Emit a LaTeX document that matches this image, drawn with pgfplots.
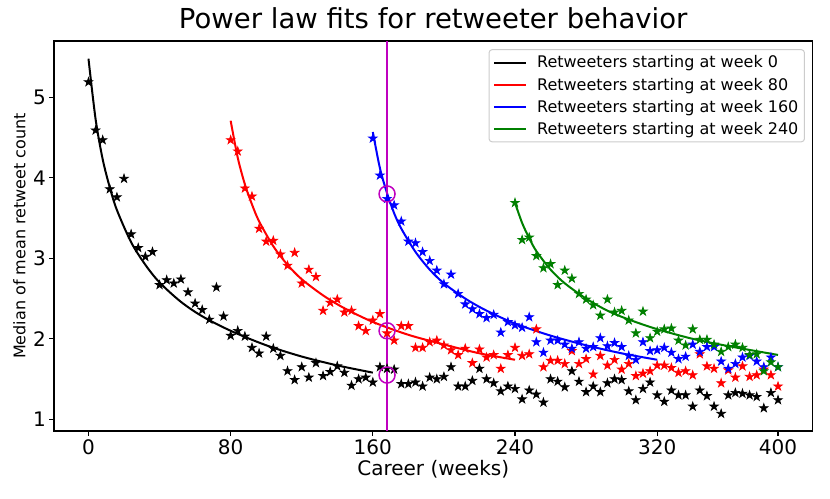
\documentclass[border=0pt]{standalone}
\usepackage{fontspec}
\setmainfont{DejaVu Sans}
\usepackage{pgfplots}
\pgfplotsset{compat=1.18}
\usetikzlibrary{plotmarks}
\definecolor{mplred}{rgb}{1,0,0}
\definecolor{mplgreen}{rgb}{0,0.5,0}
\definecolor{mplblue}{rgb}{0,0,1}
\definecolor{mplmag}{rgb}{0.75,0,0.75}
\pgfdeclareplotmark{fstar}{%
 \pgfpathmoveto{\pgfpointpolar{90}{\pgfplotmarksize}}%
 \pgfpathlineto{\pgfpointpolar{126}{0.382*\pgfplotmarksize}}%
 \pgfpathlineto{\pgfpointpolar{162}{\pgfplotmarksize}}%
 \pgfpathlineto{\pgfpointpolar{198}{0.382*\pgfplotmarksize}}%
 \pgfpathlineto{\pgfpointpolar{234}{\pgfplotmarksize}}%
 \pgfpathlineto{\pgfpointpolar{270}{0.382*\pgfplotmarksize}}%
 \pgfpathlineto{\pgfpointpolar{306}{\pgfplotmarksize}}%
 \pgfpathlineto{\pgfpointpolar{342}{0.382*\pgfplotmarksize}}%
 \pgfpathlineto{\pgfpointpolar{18}{\pgfplotmarksize}}%
 \pgfpathlineto{\pgfpointpolar{54}{0.382*\pgfplotmarksize}}%
 \pgfpathclose
 \pgfusepathqfillstroke
}
\begin{document}
\begin{tikzpicture}
\begin{axis}[
  at={(0,0)}, anchor=south west,
  scale only axis, width=758.5pt, height=390pt,
  xmin=-4.85, xmax=101.85, ymin=0.855, ymax=5.70,
  xtick={0,20,40,60,80,97}, xticklabels={0,80,160,240,320,400},
  ytick={1,2,3,4,5},
  xtick pos=bottom, ytick pos=left,
  tick align=outside, major tick length=4.7pt,
  every tick/.style={line width=1.07pt, black},
  axis line style={line width=1.07pt},
  /pgf/number format/assume math mode=true,
  ticklabel style={font=\fontsize{20}{24}\selectfont},
  xlabel={Career (weeks)},
  ylabel={Median of mean retweet count},
  xlabel style={font=\fontsize{20}{24}\selectfont, at={(0.5,0)}, anchor=base, yshift=-44pt},
  ylabel style={font=\fontsize{16}{19}\selectfont, at={(axis description cs:-0.0455,0.5)}, anchor=center},
  title={Power law fits for retweeter behavior},
  title style={font=\fontsize{27.5}{33}\selectfont, at={(0.5,1)}, anchor=base, yshift=6.7pt},
  legend style={at={(0.990,0.979)}, anchor=north east, font=\fontsize{16}{19}\selectfont,
    draw=black!20, line width=1pt, rounded corners=3pt, fill=white,
    inner xsep=4pt, inner ysep=4pt, row sep=4.5pt},
  legend cell align=left,
  legend image code/.code={\draw[line width=2pt] (0pt,0pt) -- (32pt,0pt); \path (40pt,0pt);},
]
% scatter data
\addplot[only marks, mark=fstar, mark size=4.5pt, black, mark options={line width=0.7pt}, forget plot] coordinates {
(0,5.19)(1,4.59)(2,4.47)(3,3.86)(4,3.76)(5,3.99)(6,3.30)(7,3.13)(8,3.02)(9,3.08)
(10,2.67)(11,2.73)(12,2.69)(13,2.74)(14,2.58)(15,2.44)(16,2.36)(17,2.24)(18,2.64)(19,2.28)
(20,2.04)(21,2.10)(22,2.03)(23,1.89)(24,1.82)(25,2.03)(26,1.88)(27,1.79)(28,1.60)(29,1.49)
(30,1.65)(31,1.52)(32,1.70)(33,1.54)(34,1.59)(35,1.66)(36,1.58)(37,1.42)(38,1.50)(39,1.52)
(40,1.46)(41,1.65)(42,1.63)(43,1.62)(44,1.44)(45,1.44)(46,1.46)(47,1.41)(48,1.52)(49,1.50)
(50,1.53)(51,1.65)(52,1.41)(53,1.41)(54,1.48)(55,1.63)(56,1.50)(57,1.45)(58,1.35)(59,1.41)
(60,1.38)(61,1.25)(62,1.36)(63,1.31)(64,1.21)(65,1.50)(66,1.47)(67,1.40)(68,1.60)(69,1.47)
(70,1.34)(71,1.41)(72,1.34)(73,1.45)(74,1.50)(75,1.49)(76,1.35)(77,1.24)(78,1.38)(79,1.46)
(80,1.30)(81,1.22)(82,1.36)(83,1.30)(84,1.30)(85,1.16)(86,1.36)(87,1.29)(88,1.16)(89,1.07)
(90,1.30)(91,1.33)(92,1.32)(93,1.30)(94,1.28)(95,1.14)(96,1.33)(97,1.24)};
\addplot[only marks, mark=fstar, mark size=4.5pt, mplred, mark options={line width=0.7pt}, forget plot] coordinates {
(20,4.47)(21,4.33)(22,3.87)(23,3.77)(24,3.37)(25,3.21)(26,3.22)(27,3.05)(28,2.91)(29,3.07)
(30,2.69)(31,2.86)(32,2.77)(33,2.35)(34,2.45)(35,2.49)(36,2.33)(37,2.35)(38,2.16)(39,2.10)
(40,2.23)(41,2.31)(42,2.07)(43,1.98)(44,2.16)(45,2.16)(46,1.89)(47,1.89)(48,1.96)(49,1.98)
(50,1.92)(51,1.86)(52,1.80)(53,1.88)(54,1.70)(55,1.87)(56,1.77)(57,1.80)(58,1.63)(59,1.80)
(60,1.89)(61,1.79)(62,1.81)(63,2.12)(64,1.65)(65,1.73)(66,1.73)(67,1.69)(68,1.85)(69,1.69)
(70,1.75)(71,1.56)(72,1.79)(73,1.67)(74,1.74)(75,1.62)(76,1.69)(77,1.54)(78,1.57)(79,1.60)
(80,1.67)(81,1.67)(82,1.64)(83,1.58)(84,1.60)(85,1.55)(86,1.81)(87,1.66)(88,1.63)(89,1.45)
(90,1.61)(91,1.52)(92,1.66)(93,1.53)(94,1.55)(95,1.62)(96,1.55)(97,1.41)};
\addplot[only marks, mark=fstar, mark size=4.5pt, mplblue, mark options={line width=0.7pt}, forget plot] coordinates {
(40,4.49)(41,4.03)(42,3.74)(43,3.66)(44,3.46)(45,3.21)(46,3.19)(47,3.08)(48,2.97)(49,2.85)
(50,2.68)(51,2.80)(52,2.56)(53,2.43)(54,2.37)(55,2.31)(56,2.26)(57,2.30)(58,2.08)(59,2.21)
(60,2.17)(61,2.14)(62,2.27)(63,1.96)(64,1.83)(65,1.98)(66,1.98)(67,1.93)(68,1.88)(69,1.96)
(70,1.88)(71,1.90)(72,2.01)(73,1.91)(74,1.95)(75,1.90)(76,1.79)(77,1.74)(78,1.96)(79,1.85)
(80,1.86)(81,1.89)(82,1.83)(83,1.75)(84,1.78)(85,1.93)(86,1.84)(87,1.90)(88,1.90)(89,1.72)
(90,1.63)(91,1.69)(92,1.77)(93,1.79)(94,1.72)(95,1.65)(96,1.77)(97,1.65)};
\addplot[only marks, mark=fstar, mark size=4.5pt, mplgreen, mark options={line width=0.7pt}, forget plot] coordinates {
(60,3.69)(61,3.23)(62,3.26)(63,3.03)(64,2.88)(65,2.93)(66,2.67)(67,2.85)(68,2.75)(69,2.56)
(70,2.49)(71,2.42)(72,2.29)(73,2.49)(74,2.33)(75,2.35)(76,2.23)(77,2.07)(78,2.34)(79,2.01)
(80,2.09)(81,2.12)(82,2.13)(83,1.98)(84,1.92)(85,2.12)(86,1.99)(87,1.99)(88,1.93)(89,1.84)
(90,1.90)(91,1.93)(92,1.89)(93,1.80)(94,1.81)(95,1.60)(96,1.71)(97,1.65)};
% fitted power laws
\addplot[black, line width=2pt, smooth, tension=0.5] coordinates {
(0,5.48)(1,4.73)(2,4.23)(3,3.88)(4,3.60)(6,3.20)(8,2.92)(10,2.70)(13,2.46)(16,2.28)(20,2.10)(25,1.92)(30,1.78)(35,1.67)(40,1.58)};
\addlegendentry{Retweeters starting at week 0}
\addplot[mplred, line width=2pt, smooth, tension=0.5] coordinates {
(20,4.71)(21,4.25)(22,3.92)(23,3.67)(24,3.46)(26,3.15)(28,2.92)(30,2.74)(33,2.54)(36,2.38)(40,2.21)(45,2.05)(50,1.93)(55,1.82)(60,1.74)};
\addlegendentry{Retweeters starting at week 80}
\addplot[mplblue, line width=2pt, smooth, tension=0.5] coordinates {
(40,4.57)(41,4.12)(42,3.81)(43,3.56)(44,3.37)(46,3.08)(48,2.86)(50,2.69)(53,2.50)(56,2.35)(60,2.19)(65,2.04)(70,1.92)(75,1.82)(80,1.74)};
\addlegendentry{Retweeters starting at week 160}
\addplot[mplgreen, line width=2pt, smooth, tension=0.5] coordinates {
(60,3.69)(61,3.44)(62,3.25)(63,3.09)(65,2.86)(67,2.69)(70,2.50)(73,2.35)(76,2.24)(80,2.12)(85,2.00)(90,1.91)(97,1.80)};
\addlegendentry{Retweeters starting at week 240}
% vertical marker line and circles
\addplot[mplmag, line width=2pt, forget plot] coordinates {(42,0.855)(42,5.70)};
\addplot[only marks, mark=o, mark size=8pt, mplmag, mark options={line width=1.5pt}, forget plot] coordinates {(42,3.80)(42,2.10)(42,1.55)};
\end{axis}
\pgfresetboundingbox
\path[use as bounding box] (-54pt,-67pt) rectangle (776pt,431pt);
\end{tikzpicture}
\end{document}
